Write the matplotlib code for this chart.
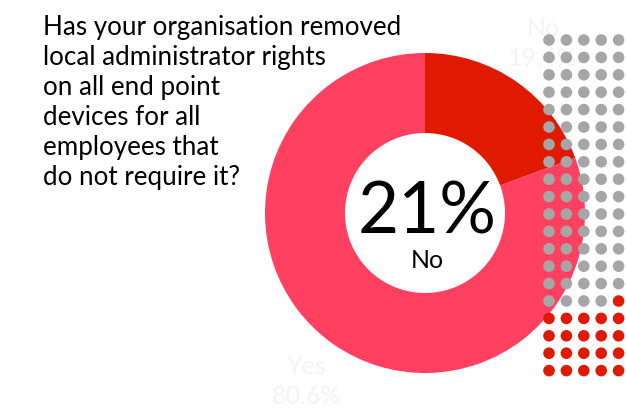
import matplotlib.pyplot as plt
from matplotlib.patches import Circle

# survey answer split
labels = ['No', 'Yes']
shares = [19.4, 80.6]
headline = '21%'
headline_label = 'No'
waffle_no = 21
waffle_total = 100
question = ['Has your organisation removed', 'local administrator rights',
            'on all end point', 'devices for all', 'employees that',
            'do not require it?']

plt.rcParams['font.family'] = ['Lato', 'DejaVu Sans']

W, H = 626, 412
fig = plt.figure(figsize=(W / 100, H / 100), dpi=100)
ax = fig.add_axes([0, 0, 1, 1])

# donut, pixel-ish coordinates with y pointing up
cx, cy, r = 425, H - 213, 160
ax.pie(shares, colors=['#E01A00', '#FF4060'], startangle=90, counterclock=False,
       center=(cx, cy), radius=r, frame=True,
       wedgeprops=dict(width=r / 2, linewidth=0))

ax.text(cx + 2, cy - 20, headline, ha='center', va='baseline', fontsize=51, color='black')
ax.text(cx + 2, cy - 55, headline_label, ha='center', va='baseline', fontsize=18, color='black')

# near-invisible slice labels
ax.text(543, H - 28, 'No', ha='center', va='center', fontsize=18, color='#F4F4F4')
ax.text(543, H - 58, f'{shares[0]}%', ha='center', va='center', fontsize=18, color='#F4F4F4')
ax.text(307, H - 367, 'Yes', ha='center', va='center', fontsize=18, color='#F4F4F4')
ax.text(307, H - 397, f'{shares[1]}%', ha='center', va='center', fontsize=18, color='#F4F4F4')

# waffle of 100 dots, grey first then red
cols = 5
x0, y0, step = 549, 40, 17.4
for i in range(waffle_total):
    row, col = divmod(i, cols)
    color = '#A6A6A6' if i < waffle_total - waffle_no else '#E01A00'
    ax.add_patch(Circle((x0 + col * step, H - (y0 + row * step)), 5.8,
                        facecolor=color, edgecolor='none', zorder=5))

# question, one line at a time so baselines sit 30px apart
for k, line in enumerate(question):
    ax.text(43, H - (35 + 30 * k), line, ha='left', va='baseline',
            fontsize=18.7, color='black', zorder=6)

ax.set_xlim(0, W)
ax.set_ylim(0, H)
ax.set_aspect('equal')
ax.axis('off')

fig.savefig('out.png', dpi=100)
